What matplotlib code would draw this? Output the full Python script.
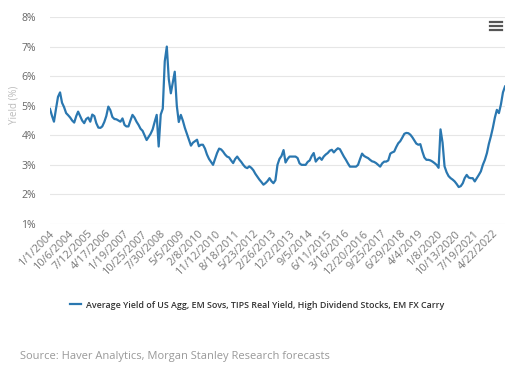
import matplotlib
matplotlib.use("Agg")
import matplotlib.pyplot as plt
import matplotlib.dates as mdates
from matplotlib.lines import Line2D
import pandas as pd

plt.rcParams['font.family'] = ['Open Sans', 'DejaVu Sans']

# monthly readings, Jan 2004 onwards (yield, %)
yield_values = [
    4.89, 4.65, 4.46, 4.90, 5.30, 5.45, 5.10, 4.95, 4.75, 4.68,
    4.60, 4.50, 4.43, 4.65, 4.80, 4.65, 4.50, 4.41, 4.55, 4.60,
    4.46, 4.70, 4.65, 4.41, 4.26, 4.25, 4.30, 4.45, 4.65, 4.97,
    4.85, 4.62, 4.55, 4.54, 4.50, 4.46, 4.57, 4.35, 4.30, 4.30,
    4.50, 4.69, 4.60, 4.46, 4.35, 4.22, 4.15, 4.00, 3.84, 3.95,
    4.05, 4.20, 4.45, 4.69, 3.62, 4.70, 4.90, 6.50, 7.00, 5.90,
    5.42, 5.80, 6.15, 5.00, 4.45, 4.69, 4.50, 4.25, 4.05, 3.85,
    3.65, 3.75, 3.80, 3.85, 3.63, 3.68, 3.68, 3.55, 3.35, 3.20,
    3.10, 3.00, 3.20, 3.40, 3.55, 3.52, 3.45, 3.35, 3.28, 3.25,
    3.15, 3.06, 3.20, 3.28, 3.18, 3.10, 3.00, 2.92, 2.89, 2.95,
    2.90, 2.82, 2.70, 2.60, 2.50, 2.42, 2.33, 2.38, 2.45, 2.55,
    2.45, 2.38, 2.48, 3.00, 3.20, 3.30, 3.50, 3.08, 3.20, 3.28,
    3.28, 3.28, 3.28, 3.23, 3.05, 3.00, 3.00, 3.00, 3.10, 3.15,
    3.30, 3.40, 3.11, 3.20, 3.25, 3.17, 3.28, 3.35, 3.40, 3.48,
    3.51, 3.42, 3.50, 3.56, 3.53, 3.40, 3.28, 3.17, 3.05, 2.94,
    2.94, 2.94, 2.94, 3.00, 3.20, 3.38, 3.30, 3.26, 3.23, 3.17,
    3.12, 3.10, 3.06, 3.00, 2.94, 3.05, 3.11, 3.11, 3.15, 3.38,
    3.42, 3.45, 3.60, 3.73, 3.80, 3.92, 4.05, 4.08, 4.07, 4.02,
    3.93, 3.82, 3.72, 3.68, 3.70, 3.45, 3.25, 3.17, 3.17, 3.15,
    3.11, 3.06, 3.00, 2.90, 4.20, 3.75, 2.95, 2.75, 2.62, 2.55,
    2.50, 2.44, 2.35, 2.25, 2.28, 2.38, 2.55, 2.66, 2.57, 2.55,
    2.55, 2.44, 2.55, 2.66, 2.78, 3.00, 3.17, 3.40, 3.70, 3.96,
    4.25, 4.60, 4.86, 4.75, 5.05, 5.45, 5.65,
]
dates = pd.date_range('2004-01-01', periods=len(yield_values), freq='MS')

tick_labels = ['1/1/2004', '10/6/2004', '7/12/2005', '4/17/2006', '1/19/2007',
               '10/25/2007', '7/30/2008', '5/5/2009', '2/8/2010', '11/12/2010',
               '8/18/2011', '5/23/2012', '2/26/2013', '12/2/2013', '9/5/2014',
               '6/11/2015', '3/16/2016', '12/20/2016', '9/25/2017', '6/29/2018',
               '4/4/2019', '1/8/2020', '10/13/2020', '7/19/2021', '4/22/2022']
y_ticks = [1, 2, 3, 4, 5, 6, 7, 8]

series_name = 'Average Yield of US Agg, EM Sovs, TIPS Real Yield, High Dividend Stocks, EM FX Carry'
source = 'Source: Haver Analytics, Morgan Stanley Research forecasts'

fig = plt.figure(figsize=(5.19, 3.69), dpi=100)
ax = fig.add_axes([50 / 519, 1 - 224 / 369, 455 / 519, 207 / 369])

line, = ax.plot(dates, yield_values, color='#2a77b0', linewidth=1.6)

ax.set_ylim(1, 8)
ax.set_yticks(y_ticks)
ax.set_yticklabels(['{0}%'.format(v) for v in y_ticks])
ax.set_xlim(dates[0], dates[-1])
tick_dates = pd.to_datetime(tick_labels, format='%m/%d/%Y')
ax.set_xticks(mdates.date2num(tick_dates))
ax.set_xticklabels(tick_labels, rotation=45, ha='right', rotation_mode='anchor')

ax.grid(axis='y', color='#e6e6e6', linewidth=0.8)
ax.set_axisbelow(True)
for s in ax.spines.values():
    s.set_visible(False)
ax.tick_params(axis='both', length=0)
ax.tick_params(axis='y', pad=10, labelsize=7.5, colors='#666666')
ax.tick_params(axis='x', pad=3, labelsize=7.8, colors='#7a7a7a')

fig.text(14 / 519, 1 - 105 / 369, 'Yield (%)', rotation=90, ha='center', va='center',
         fontsize=7, color='#bbbbbb')

# menu icon
for yy in (22, 26, 30):
    fig.add_artist(Line2D([490 / 519, 502 / 519], [1 - yy / 369, 1 - yy / 369],
                          color='#555555', linewidth=1.6))

leg = fig.legend([line], [series_name], loc='center', bbox_to_anchor=(257 / 519, 1 - 305 / 369),
                 frameon=False, handlelength=1.3, handletextpad=0.5,
                 prop={'weight': 'semibold', 'size': 6.4})
for t in leg.get_texts():
    t.set_color('#333333')

fig.text(20 / 519, 1 - 356 / 369, source, ha='left', va='center', fontsize=8, color='#999999')

fig.savefig('out.png', dpi=100)
